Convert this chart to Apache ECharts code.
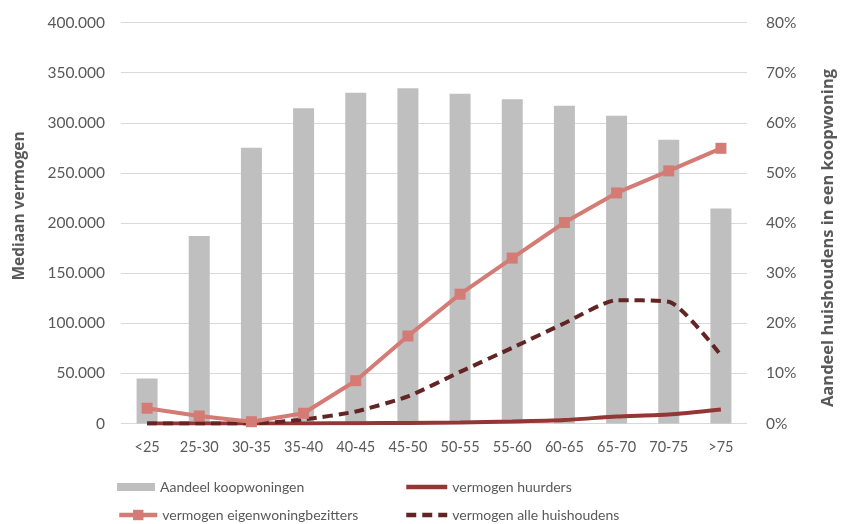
<!DOCTYPE html>
<html>
<head>
<meta charset="utf-8">
<script src="https://cdn.jsdelivr.net/npm/echarts@6/dist/echarts.min.js"></script>
<style>
  html, body { margin: 0; padding: 0; background: #fff; }
  #chart { width: 845px; height: 524px; }
</style>
</head>
<body>
<div id="chart"></div>
<script>
// Age groups
const categories = ['<25', '25-30', '30-35', '35-40', '40-45', '45-50', '50-55', '55-60', '60-65', '65-70', '70-75', '>75'];
// Share of households owning their home (%), right axis
const aandeelKoop = [9.0, 37.4, 55.0, 62.9, 66.0, 66.9, 65.8, 64.7, 63.4, 61.4, 56.6, 42.9];
// Median wealth (euro), left axis
const vermogenEigen = [15200, 7500, 1800, 10200, 42700, 87300, 129000, 165000, 200500, 230000, 252000, 274500];
const vermogenHuur = [0, 0, 0, 0, 300, 600, 1000, 2000, 3500, 7000, 9000, 14000];
const vermogenAlle = [0, 0, 0, 4000, 12000, 27000, 51500, 75500, 100000, 123000, 121500, 68000];
// Axis tick values
const leftTicks = [0, 50000, 100000, 150000, 200000, 250000, 300000, 350000, 400000];
const rightTicks = [0, 10, 20, 30, 40, 50, 60, 70, 80];

const FONT = 'Lato';
const TITLE_FONT = 'Open Sans';
const TXT = '#595959';
const GRID = '#D9D9D9';
const C_BAR = '#BFBFBF';
const C_EIGEN = '#D47B76';
const C_HUUR = '#943634';
const C_ALLE = '#632523';

const fmtThousands = v => String(v).replace(/\B(?=(\d{3})+(?!\d))/g, '.');

const chart = echarts.init(document.getElementById('chart'), null, { renderer: 'canvas' });

const legendText = { color: TXT, fontSize: 14, fontFamily: FONT };

chart.setOption({
  animation: false,
  textStyle: { fontFamily: FONT },
  grid: { left: 121, right: 87, top: 22.5, bottom: 100.5 },
  legend: [
    {
      left: 117, top: 480, padding: 0,
      itemWidth: 38, itemHeight: 8,
      textStyle: legendText,
      data: [{ name: 'Aandeel koopwoningen', icon: 'rect', itemStyle: { color: C_BAR } }]
    },
    {
      left: 117, top: 508, padding: 0,
      itemWidth: 38, itemHeight: 13,
      textStyle: legendText,
      data: [{ name: 'vermogen eigenwoningbezitters', lineStyle: { width: 4.5 } }]
    },
    {
      orient: 'vertical', left: 404, top: 480, height: 44, padding: 0, itemGap: 14,
      itemWidth: 41, itemHeight: 10,
      textStyle: legendText,
      data: [
        { name: 'vermogen huurders', itemStyle: { opacity: 0 }, lineStyle: { width: 4.5 } },
        { name: 'vermogen alle huishoudens', itemStyle: { opacity: 0 }, lineStyle: { width: 4.5 } }
      ]
    }
  ],
  xAxis: {
    type: 'category',
    data: categories,
    axisLine: { show: false },
    axisTick: { show: false },
    axisLabel: { color: TXT, fontSize: 14.5, fontFamily: FONT, margin: 16, interval: 0 }
  },
  yAxis: [
    {
      type: 'value',
      min: leftTicks[0], max: leftTicks[leftTicks.length - 1],
      interval: leftTicks[1] - leftTicks[0],
      name: 'Mediaan vermogen',
      nameLocation: 'middle', nameGap: 93,
      nameTextStyle: { color: TXT, fontSize: 15.5, fontWeight: 'bold', fontFamily: TITLE_FONT, padding: [0, 0, 0, 34] },
      axisLine: { show: false }, axisTick: { show: false },
      axisLabel: { color: TXT, fontSize: 15.5, fontFamily: FONT, margin: 16, formatter: fmtThousands },
      splitLine: { lineStyle: { color: GRID, width: 1 } }
    },
    {
      type: 'value',
      min: rightTicks[0], max: rightTicks[rightTicks.length - 1],
      interval: rightTicks[1] - rightTicks[0],
      position: 'right',
      name: 'Aandeel huishoudens in een koopwoning',
      nameLocation: 'middle', nameGap: 73, nameRotate: 90,
      nameTextStyle: { color: TXT, fontSize: 16.5, fontWeight: 'bold', fontFamily: TITLE_FONT, padding: [0, 30, 0, 0] },
      axisLine: { show: false }, axisTick: { show: false },
      axisLabel: { color: TXT, fontSize: 15.5, fontFamily: FONT, margin: 19, formatter: '{value}%' },
      splitLine: { show: false }
    }
  ],
  series: [
    {
      name: 'Aandeel koopwoningen',
      type: 'bar',
      yAxisIndex: 1,
      data: aandeelKoop,
      barWidth: 21,
      itemStyle: { color: C_BAR },
      z: 1
    },
    {
      name: 'vermogen huurders',
      type: 'line',
      yAxisIndex: 0,
      data: vermogenHuur,
      smooth: 0.2,
      symbol: 'none',
      lineStyle: { color: C_HUUR, width: 4 },
      itemStyle: { color: C_HUUR },
      z: 3
    },
    {
      name: 'vermogen alle huishoudens',
      type: 'line',
      yAxisIndex: 0,
      data: vermogenAlle,
      smooth: 0.2,
      symbol: 'none',
      lineStyle: { color: C_ALLE, width: 4, type: [10, 6] },
      itemStyle: { color: C_ALLE },
      z: 4
    },
    {
      name: 'vermogen eigenwoningbezitters',
      type: 'line',
      yAxisIndex: 0,
      data: vermogenEigen,
      symbol: 'rect',
      symbolSize: 11,
      lineStyle: { color: C_EIGEN, width: 4 },
      itemStyle: { color: C_EIGEN },
      z: 5
    }
  ]
});
</script>
</body>
</html>
